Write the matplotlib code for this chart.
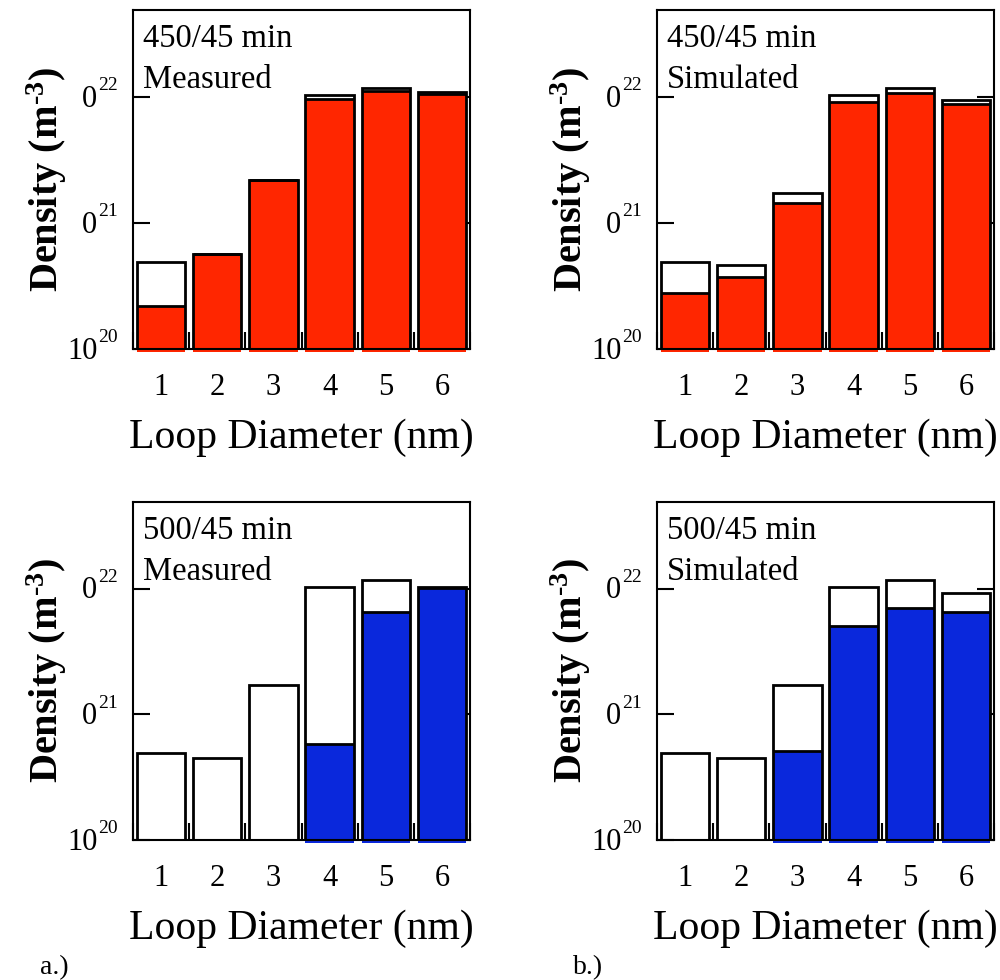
import matplotlib
matplotlib.use("Agg")
import matplotlib.pyplot as plt
import matplotlib.transforms as mtransforms
import numpy as np
from matplotlib.ticker import FixedLocator, NullLocator

plt.rcParams['font.family'] = ['Liberation Serif', 'DejaVu Serif']
plt.rcParams['mathtext.fontset'] = 'custom'
plt.rcParams['mathtext.rm'] = 'Liberation Serif'
plt.rcParams['mathtext.it'] = 'Liberation Serif:italic'
plt.rcParams['mathtext.bf'] = 'Liberation Serif:bold'

# loop diameter classes (nm)
diam = [1, 2, 3, 4, 5, 6]

# densities (m^-3): open = outlined bar, fill = coloured bar
meas450_open = [4.9e20, 5.7e20, 2.2e21, 1.04e22, 1.17e22, 1.10e22]
meas450_fill = [2.2e20, 5.7e20, 2.2e21, 9.6e21, 1.12e22, 1.06e22]
sim450_open = [4.9e20, 4.6e20, 1.72e21, 1.04e22, 1.17e22, 9.5e21]
sim450_fill = [2.8e20, 3.7e20, 1.45e21, 9.1e21, 1.07e22, 8.8e21]
meas500_open = [4.9e20, 4.5e20, 1.7e21, 1.03e22, 1.18e22, 1.03e22]
meas500_fill = [None, None, None, 5.8e20, 6.5e21, 1.02e22]
sim500_open = [4.9e20, 4.5e20, 1.71e21, 1.04e22, 1.18e22, 9.2e21]
sim500_fill = [None, None, 5.1e20, 5.0e21, 7.0e21, 6.5e21]

# y tick labels as printed (leading "1" clipped on upper two)
ytick_vals = [1e20, 1e21, 1e22]
ytick_base = ['10', '0', '0']
ytick_exp = ['20', '21', '22']

RED = '#ff2600'
BLUE = '#0a28dc'
BASE = 1e20
W = 0.86


def draw_panel(ax, open_vals, fill_vals, color, line1, line2):
    x = np.array(diam, dtype=float)
    fx = [xi for xi, v in zip(x, fill_vals) if v is not None]
    fv = [v for v in fill_vals if v is not None]
    if fv:
        fv = np.array(fv)
        low = 10 ** 19.975
        ax.bar(fx, fv - low, W, bottom=low, color=color, edgecolor='none',
               clip_on=False, zorder=2)
        ax.hlines(fv, np.array(fx) - W / 2, np.array(fx) + W / 2, color='black',
                  lw=2.0, zorder=3)
    ov = np.array(open_vals)
    ax.bar(x, ov - BASE, W, bottom=BASE, fill=False, edgecolor='black',
           lw=2.0, zorder=3)

    ax.set_yscale('log')
    ax.set_ylim(1e20, 10 ** 22.69)
    ax.set_xlim(0.5, 6.5)
    ax.yaxis.set_major_locator(FixedLocator(ytick_vals))
    ax.yaxis.set_minor_locator(NullLocator())
    ax.set_yticklabels([])
    ax.set_xticks(diam)
    ax.set_xticks(np.arange(0.5, 7.0, 1.0), minor=True)
    ax.tick_params(axis='x', which='major', length=0, pad=17, labelsize=22)
    ax.tick_params(axis='x', which='minor', direction='in', length=12,
                   width=1.5, bottom=True, top=False)
    ax.tick_params(axis='y', which='major', direction='in', length=12,
                   width=1.5, left=True, right=True)
    for s in ax.spines.values():
        s.set_linewidth(1.5)

    # y tick labels: base + small superscript
    blend = mtransforms.blended_transform_factory(ax.transAxes, ax.transData)
    down = blend + mtransforms.ScaledTranslation(0, -7 / 72, fig.dpi_scale_trans)
    up = blend + mtransforms.ScaledTranslation(0, 4.8 / 72, fig.dpi_scale_trans)
    for v, b, e in zip(ytick_vals, ytick_base, ytick_exp):
        ax.text(-0.106, v, b, transform=down, fontsize=22, ha='right',
                va='baseline', clip_on=False)
        ax.text(-0.104, v, e, transform=up, fontsize=14, ha='left',
                va='baseline', clip_on=False)

    ax.set_xlabel('Loop Diameter (nm)', fontsize=30)
    ax.xaxis.set_label_coords(0.5, -0.205)
    ax.set_ylabel('Density (m$^{\\mathbf{\u2010}\\mathbf{3}}$)', fontsize=29,
                  fontweight='bold')
    ax.yaxis.set_label_coords(-0.19, 0.5)

    ax.text(0.03, 0.891, line1, transform=ax.transAxes, fontsize=23.5,
            va='baseline', ha='left')
    ax.text(0.03, 0.770, line2, transform=ax.transAxes, fontsize=23.5,
            va='baseline', ha='left')


fig = plt.figure(figsize=(10, 9.8), dpi=100)
ax1 = fig.add_axes([0.133, 0.6439, 0.337, 0.3459])
ax2 = fig.add_axes([0.657, 0.6439, 0.337, 0.3459])
ax3 = fig.add_axes([0.133, 0.1429, 0.337, 0.3449])
ax4 = fig.add_axes([0.657, 0.1429, 0.337, 0.3449])

draw_panel(ax1, meas450_open, meas450_fill, RED, '450/45 min', 'Measured')
draw_panel(ax2, sim450_open, sim450_fill, RED, '450/45 min', 'Simulated')
draw_panel(ax3, meas500_open, meas500_fill, BLUE, '500/45 min', 'Measured')
draw_panel(ax4, sim500_open, sim500_fill, BLUE, '500/45 min', 'Simulated')

fig.text(0.040, 0.006, 'a.)', fontsize=20, va='baseline')
fig.text(0.573, 0.006, 'b.)', fontsize=20, va='baseline')

fig.savefig('out.png', dpi=100)
